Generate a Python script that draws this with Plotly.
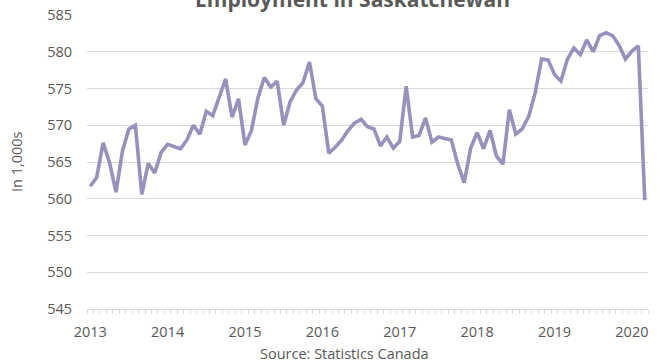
import plotly.graph_objects as go

# Monthly employment in Saskatchewan (thousands), Jan 2013 - Mar 2020
years = ["2013", "2014", "2015", "2016", "2017", "2018", "2019", "2020"]
employment = [
    561.7, 562.9, 567.6, 564.9, 560.9, 566.5, 569.5, 570.0, 560.6, 564.8, 563.5, 566.3,  # 2013
    567.4, 567.1, 566.8, 568.0, 570.0, 568.8, 571.9, 571.3, 573.8, 576.3, 571.1, 573.6,  # 2014
    567.3, 569.3, 573.7, 576.5, 575.2, 576.0, 570.0, 573.2, 574.8, 575.8, 578.6, 573.6,  # 2015
    572.6, 566.2, 567.0, 568.0, 569.3, 570.3, 570.8, 569.8, 569.5, 567.2, 568.4, 566.9,  # 2016
    567.8, 575.3, 568.4, 568.6, 571.0, 567.7, 568.4, 568.2, 568.0, 564.7, 562.2, 566.9,  # 2017
    569.0, 566.8, 569.3, 565.8, 564.7, 572.1, 568.8, 569.5, 571.2, 574.4, 579.0, 578.9,  # 2018
    576.9, 576.0, 579.0, 580.5, 579.6, 581.6, 580.0, 582.2, 582.6, 582.2, 580.9, 579.0,  # 2019
    580.1, 580.8, 559.8,                                                                 # 2020
]
month_index = list(range(len(employment)))
year_ticks = [12 * k for k in range(len(years))]

title_text = "Employment in Saskatchewan"
y_title = "In 1,000s"
x_title = "Source: Statistics Canada"

TEXT = "#595959"
GRID = "#D9D9D9"
LINE = "#9A90BD"
FONT = "Open Sans"

W, H = 662, 362
L, R, T, B = 87, 14, 15, 53
plot_w = W - L - R
plot_h = H - T - B

fig = go.Figure(
    go.Scatter(
        x=month_index,
        y=employment,
        mode="lines",
        line=dict(color=LINE, width=3.6),
        hoverinfo="skip",
    )
)

fig.update_layout(
    width=W,
    height=H,
    margin=dict(l=L, r=R, t=T, b=B, pad=0, autoexpand=False),
    paper_bgcolor="white",
    plot_bgcolor="white",
    showlegend=False,
    font=dict(family=FONT, color=TEXT, size=14),
)

fig.update_xaxes(
    range=[-0.5, len(employment) - 0.5],
    tickmode="array",
    tickvals=year_ticks,
    ticktext=years,
    ticks="",
    showgrid=False,
    zeroline=False,
    showline=True,
    linecolor=GRID,
    linewidth=1,
    automargin=False,
    ticklabelstandoff=10,
    tickfont=dict(size=14.5, color=TEXT),
    minor=dict(
        ticks="outside",
        tickmode="linear",
        tick0=-0.5,
        dtick=1,
        ticklen=4,
        tickcolor=GRID,
        tickwidth=1,
        showgrid=False,
    ),
)

fig.update_yaxes(
    range=[545, 585],
    tickmode="linear",
    tick0=545,
    dtick=5,
    showgrid=True,
    gridcolor=GRID,
    gridwidth=1,
    zeroline=False,
    showline=False,
    ticks="",
    automargin=False,
    ticklabelstandoff=14,
    tickfont=dict(size=14.5, color=TEXT),
)

# Title (partly cut off at top, as in the reference)
fig.add_annotation(
    text="<b>" + title_text + "</b>",
    xref="paper",
    yref="paper",
    x=(352 - L) / plot_w,
    y=1 + (T + 1) / plot_h,
    xanchor="center",
    yanchor="middle",
    showarrow=False,
    font=dict(family=FONT, size=21, color=TEXT),
)
fig.add_annotation(
    text=y_title,
    textangle=-90,
    xref="paper",
    yref="paper",
    x=(16 - L) / plot_w,
    y=0.5,
    xanchor="center",
    yanchor="middle",
    showarrow=False,
    font=dict(family=FONT, size=14.5, color=TEXT),
)
fig.add_annotation(
    text=x_title,
    xref="paper",
    yref="paper",
    x=(344 - L) / plot_w,
    y=-(353 - (H - B)) / plot_h,
    xanchor="center",
    yanchor="middle",
    showarrow=False,
    font=dict(family=FONT, size=14.5, color=TEXT),
)

fig.write_html("out.html")
